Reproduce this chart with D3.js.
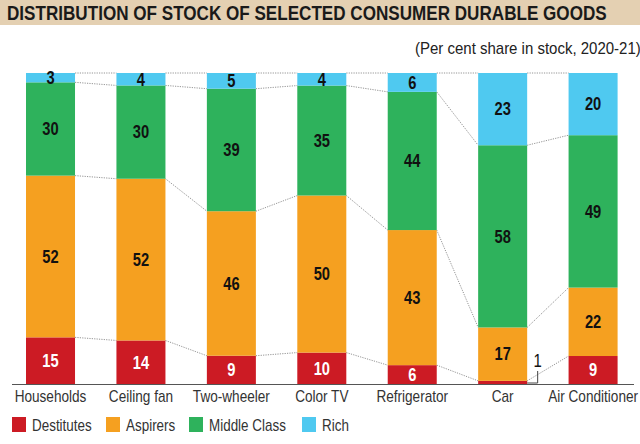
<!DOCTYPE html>
<html><head><meta charset="utf-8">
<script src="https://cdn.jsdelivr.net/npm/d3@7"></script>
<style>body{margin:0;background:#fff}svg{display:block}</style>
</head><body>
<svg id="c" width="640" height="444"></svg>
<script>
const categories = ["Households","Ceiling fan","Two-wheeler","Color TV","Refrigerator","Car","Air Conditioner"];
const seriesNames = ["Destitutes","Aspirers","Middle Class","Rich"];
const destitutes = [15,14,9,10,6,1,9];
const aspirers   = [52,52,46,50,43,17,22];
const middle     = [30,30,39,35,44,58,49];
const rich       = [3,4,5,4,6,23,20];
const colors = ["#cc1b24","#f5a020","#2eb25c","#4fc9f0"];
const titleText = "DISTRIBUTION OF STOCK OF SELECTED CONSUMER DURABLE GOODS";
const subtitleText = "(Per cent share in stock, 2020-21)";

const FONT = "'Liberation Sans',Arial,sans-serif";
const svg = d3.select("#c");

// horizontally condensed text: k = horizontal factor, or width = target width
function ctext(parent, str, x, y, opts){
  const t = parent.append("text").attr("x",0).attr("y",0).text(str)
    .attr("font-family",FONT).attr("font-size",opts.size)
    .attr("font-weight",opts.bold?"bold":"normal")
    .attr("fill",opts.fill||"#111")
    .attr("text-anchor",opts.anchor||"start");
  let k = opts.k || 0.85;
  if (opts.width){ const w = t.node().getComputedTextLength(); k = opts.width / w; }
  t.attr("transform",`translate(${x},${y}) scale(${k},1)`);
  return t;
}

// title bar
svg.append("rect").attr("x",0).attr("y",0).attr("width",640).attr("height",25).attr("fill","#e4d0b2");
ctext(svg, titleText, 7, 19.5, {size:19.5, bold:true, fill:"#1a1a1a", width:600});
ctext(svg, subtitleText, 415, 54, {size:17, fill:"#222", width:226});

const data = categories.map((c,i)=>({cat:c, "Destitutes":destitutes[i], "Aspirers":aspirers[i], "Middle Class":middle[i], "Rich":rich[i]}));
const stack = d3.stack().keys(seriesNames).offset(d3.stackOffsetExpand);
const series = stack(data);

const x = d3.scaleBand().domain(categories).range([5.3,638.3]).paddingInner(0.458).paddingOuter(0.229);
const y = d3.scaleLinear().domain([0,1]).range([384,73]);
const bw = x.bandwidth();

// connector dotted lines
seriesNames.forEach((n,si)=>{
  for(let i=0;i<categories.length-1;i++){
    const a = series[si][i][1], b = series[si][i+1][1];
    svg.append("line")
      .attr("x1",x(categories[i])+bw).attr("x2",x(categories[i+1]))
      .attr("y1",y(a)).attr("y2",y(b))
      .attr("stroke","#888").attr("stroke-width",0.9).attr("stroke-dasharray","1.2,1.2");
  }
});

// bars
series.forEach((s,si)=>{
  svg.append("g").selectAll("rect").data(s).join("rect")
    .attr("x",d=>x(d.data.cat)).attr("width",bw)
    .attr("y",d=>y(d[1])).attr("height",d=>y(d[0])-y(d[1]))
    .attr("fill",colors[si]);
});

// labels
const lab = svg.append("g");
series.forEach((s,si)=>{
  s.forEach((d,i)=>{
    const v = d.data[seriesNames[si]];
    if (categories[i]==="Car" && seriesNames[si]==="Destitutes") return;
    ctext(lab, String(v), x(d.data.cat)+bw/2, (y(d[0])+y(d[1]))/2+6.3,
      {size:17.7, bold:true, anchor:"middle", fill: si===0?"#fff":"#111", k:0.83});
  });
});

// Car destitutes callout
{
  const i = categories.indexOf("Car");
  const xr = x("Car")+bw;
  const yb = y(0);
  svg.append("path").attr("d",`M${xr},${yb-1}H${xr+10.5}V${yb-13}`)
    .attr("fill","none").attr("stroke","#444").attr("stroke-width",1);
  ctext(svg, String(destitutes[i]), xr+10.5, yb-17, {size:17.5, anchor:"middle", fill:"#111", k:0.85});
}

// axis baseline
svg.append("line").attr("x1",12).attr("x2",634).attr("y1",384.5).attr("y2",384.5)
  .attr("stroke","#555").attr("stroke-width",1);

// category labels
const xAxis = d3.axisBottom(x).tickSize(0).tickPadding(0);
const gx = svg.append("g").attr("transform","translate(0,385)").call(xAxis);
gx.select(".domain").remove();
gx.selectAll(".tick text").each(function(){
  d3.select(this).attr("font-family",FONT).attr("font-size",16).attr("fill","#333")
   .attr("y",0).attr("dy",null).attr("transform","translate(0,17) scale(0.85,1)");
});

// legend
const legX = [12,106,189,302];
seriesNames.forEach((n,i)=>{
  svg.append("rect").attr("x",legX[i]).attr("y",417).attr("width",14).attr("height",15).attr("fill",colors[i]);
  ctext(svg, n, legX[i]+20, 431, {size:16, fill:"#333", k:0.84});
});
</script>
</body></html>
